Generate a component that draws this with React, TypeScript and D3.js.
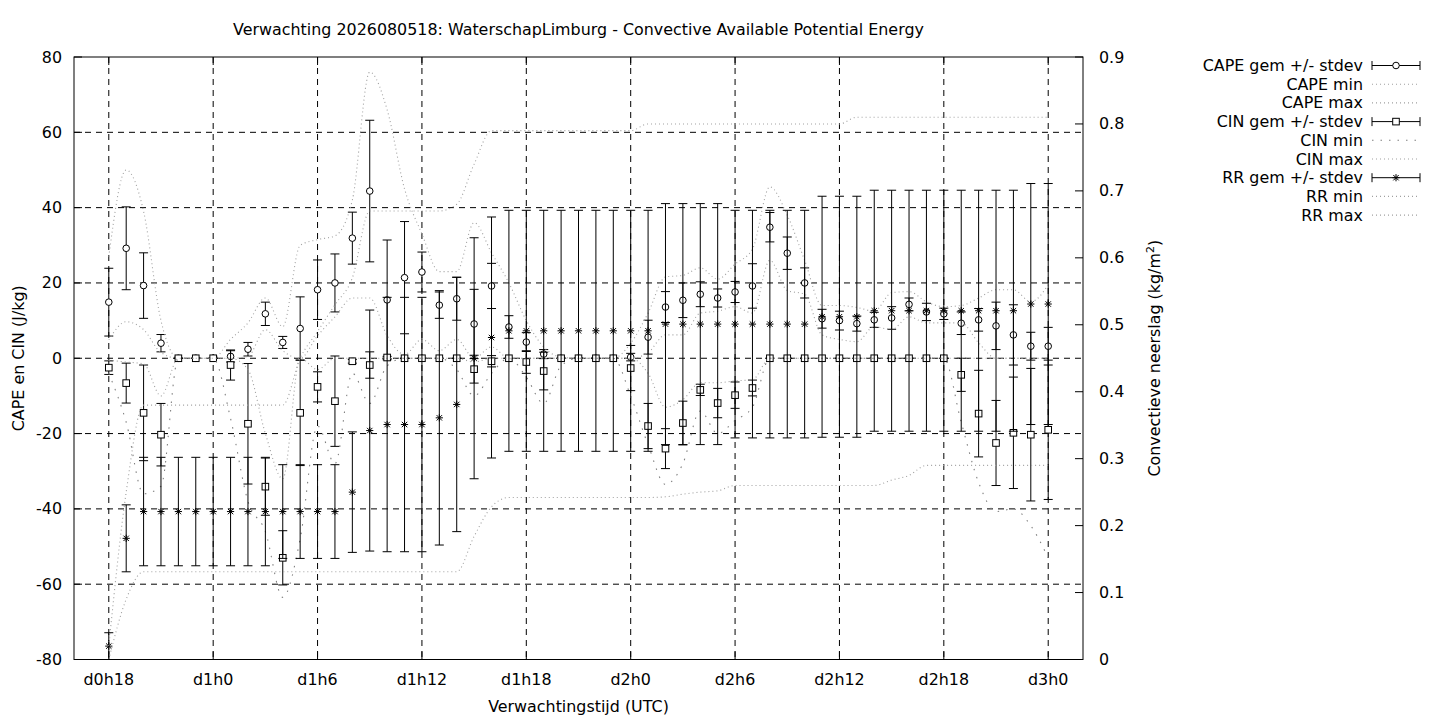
// CAPE / CIN / convective precipitation ensemble forecast chart (gnuplot look-alike)
import * as d3 from "d3";

// ─── Data ──────────────────────────────────────────────────────────────────

const leadHours = [
  18, 19, 20, 21, 22, 23, 24, 25, 26, 27,
  28, 29, 30, 31, 32, 33, 34, 35, 36, 37,
  38, 39, 40, 41, 42, 43, 44, 45, 46, 47,
  48, 49, 50, 51, 52, 53, 54, 55, 56, 57,
  58, 59, 60, 61, 62, 63, 64, 65, 66, 67,
  68, 69, 70, 71, 72,
];

const xTickHours = [18, 24, 30, 36, 42, 48, 54, 60, 66, 72];
const xTickLabels = ["d0h18", "d1h0", "d1h6", "d1h12", "d1h18", "d2h0", "d2h6", "d2h12", "d2h18", "d3h0"];
const leftTicks = [-80, -60, -40, -20, 0, 20, 40, 60, 80];
const rightTicks = [0, 0.1, 0.2, 0.3, 0.4, 0.5, 0.6, 0.7, 0.8, 0.9];

const capeMean = [
  14.9, 29.2, 19.3, 4.0, 0, 0, 0, 0.5, 2.4, 11.8,
  4.2, 7.9, 18.2, 20.0, 31.9, 44.4, 15.5, 21.4, 22.9, 14.1,
  15.8, 9.1, 19.2, 8.3, 4.3, 1.1, 0, 0, 0, 0,
  0.3, 5.6, 13.6, 15.4, 17.0, 16.0, 17.6, 19.2, 34.8, 27.9,
  20.0, 10.5, 10.0, 9.2, 10.2, 10.7, 14.3, 12.3, 11.8, 9.3,
  10.2, 8.6, 6.2, 3.2, 3.2,
];
const capeSd = [
  9, 11, 8.7, 2.3, 0, 0, 0, 1.5, 1.8, 3.1,
  1.6, 8.4, 7.9, 7.7, 6.9, 18.8, 15.9, 14.9, 5.3, 3.5,
  5.7, 9.2, 6, 3, 2.5, 1.2, 0, 0, 0, 0,
  1, 4.5, 4.1, 4.6, 3.3, 2.4, 2.8, 5.9, 3.9, 4.3,
  4, 2.5, 2.5, 2, 2, 3, 1.7, 2.3, 1.5, 3,
  3, 6.3, 8, 3.7, 5,
];
const capeMin = [
  4.9, 9.7, 7.6, 1.5, 0, 0, 0, 0, 0.5, 7.6,
  2, 0, 6, 11, 16, 16, 6, 1, 5, 2,
  5, 0, 3, 0, 0, 0, 0, 0, 0, 0,
  0, 1.5, 6.2, 6.2, 12, 12.5, 13.7, 12, 26, 18,
  17, 6.2, 5, 4.4, 8.4, 7.6, 11, 9.4, 9.4, 9.4,
  4.1, 0, 0, 0, 0,
];
const capeMax = [
  27, 50, 39, 10, 0, 0, 0, 5, 9.4, 16,
  8.4, 30, 31.5, 32.5, 42, 76, 66, 45, 33, 23,
  23, 36, 28, 20, 10, 3, 0.3, 0, 0, 0,
  4, 12, 21.6, 22, 24, 21, 25, 29, 45.5, 38,
  26, 14, 14, 13.5, 12.5, 17.4, 17.7, 15, 13.7, 14,
  16, 18.2, 18.2, 15, 19.5,
];

const cinMean = [
  -2.5, -6.6, -14.5, -20.3, 0, 0, 0, -1.8, -17.4, -34.1,
  -53, -14.5, -7.6, -11.4, -0.8, -1.8, 0.2, 0, 0, 0,
  0, -2.9, -0.8, 0, -1, -3.4, 0, 0, 0, 0,
  -2.6, -18, -24, -17.2, -8.4, -11.9, -9.8, -7.9, 0, 0,
  0, 0, 0, 0, 0, 0, 0, 0, 0, -4.4,
  -14.7, -22.5, -19.8, -20.3, -19,
];
const cinSd = [
  1.8, 5.3, 12.7, 8.3, 0, 0, 0, 4, 16, 7.6,
  7.2, 14, 4, 12, 0.5, 3.5, 0.3, 0, 0, 0,
  0, 3.7, 1.5, 0, 3, 5, 0, 0, 0, 0,
  6, 6, 5.3, 5.8, 1.5, 3.9, 3.5, 2.1, 0, 0,
  0, 0, 0, 0, 0, 0, 0, 0, 0, 4.4,
  11.5, 11.3, 14.8, 17.6, 18.5,
];
const cinMin = [
  -4, -17, -36, -34, 0, 0, 0, -16, -38, -46,
  -63.5, -48, -18, -28, -4, -12, -2, 0, 0, 0,
  -3, -10, -4, 0, -5, -12, -2, 0, 0, 0,
  -10, -23, -33.5, -28, -14, -20, -16.5, -13, 0, 0,
  0, 0, 0, 0, 0, 0, 0, 0, 0, -17,
  -33, -40.7, -40, -44.5, -53,
];
const cinMax = [
  -0.5, -1, -1.5, -10, 0, 0, 0, 0, -3, -20,
  -32, 0, -3, 0, 0, 0, 0, 0, 0, 0,
  0, -1, 0, 0, 0, 0, 0, 0, 0, 0,
  0, -4, -13, -11, -6.5, -6.5, -6, -5.7, 0, 0,
  0, 0, 0, 0, 0, 0, 0, 0, 0, 0,
  0, 0, 0, 0, 0,
];

const rrMean = [
  0.02, 0.181, 0.221, 0.221, 0.221, 0.221, 0.221, 0.221, 0.221, 0.221,
  0.221, 0.221, 0.221, 0.221, 0.25, 0.342, 0.351, 0.351, 0.351, 0.361,
  0.381, 0.45, 0.481, 0.491, 0.491, 0.491, 0.491, 0.491, 0.491, 0.491,
  0.491, 0.491, 0.501, 0.501, 0.501, 0.501, 0.501, 0.501, 0.501, 0.501,
  0.501, 0.512, 0.512, 0.512, 0.521, 0.521, 0.521, 0.521, 0.521, 0.521,
  0.521, 0.521, 0.521, 0.531, 0.531,
];
const rrSd = [
  0.02, 0.05, 0.081, 0.081, 0.081, 0.081, 0.081, 0.081, 0.081, 0.081,
  0.07, 0.07, 0.07, 0.07, 0.09, 0.18, 0.19, 0.19, 0.19, 0.19,
  0.19, 0.18, 0.18, 0.18, 0.18, 0.18, 0.18, 0.18, 0.18, 0.18,
  0.18, 0.18, 0.18, 0.18, 0.18, 0.18, 0.17, 0.17, 0.17, 0.17,
  0.17, 0.18, 0.18, 0.18, 0.18, 0.18, 0.18, 0.18, 0.18, 0.18,
  0.18, 0.18, 0.18, 0.18, 0.18,
];
const rrMin = [
  0, 0.09, 0.131, 0.131, 0.131, 0.131, 0.131, 0.131, 0.131, 0.131,
  0.131, 0.131, 0.131, 0.131, 0.131, 0.131, 0.131, 0.131, 0.131, 0.131,
  0.131, 0.184, 0.228, 0.242, 0.242, 0.242, 0.242, 0.242, 0.242, 0.242,
  0.242, 0.242, 0.243, 0.247, 0.25, 0.252, 0.26, 0.26, 0.26, 0.26,
  0.26, 0.26, 0.26, 0.26, 0.26, 0.268, 0.275, 0.29, 0.29, 0.29,
  0.29, 0.29, 0.29, 0.29, 0.29,
];
const rrMax = [
  0.02, 0.25, 0.38, 0.38, 0.38, 0.38, 0.38, 0.38, 0.38, 0.38,
  0.38, 0.45, 0.49, 0.53, 0.57, 0.67, 0.67, 0.67, 0.67, 0.67,
  0.68, 0.74, 0.79, 0.79, 0.79, 0.79, 0.79, 0.79, 0.79, 0.79,
  0.79, 0.8, 0.8, 0.8, 0.8, 0.8, 0.8, 0.8, 0.8, 0.8,
  0.8, 0.8, 0.8, 0.81, 0.81, 0.81, 0.81, 0.81, 0.81, 0.81,
  0.81, 0.81, 0.81, 0.81, 0.81,
];

// ─── Layout ────────────────────────────────────────────────────────────────

const W = 1440;
const H = 720;
const PLOT = { left: 74, right: 1083, top: 57, bottom: 659.5 };
const FONT = "DejaVu Sans, sans-serif";
const FS = 15.9;
const DOT_FINE = "1,3";
const DOT_SPARSE = "1.5,7";
const GRAY = "#a0a0a0";

type Marker = "circle" | "square" | "star";

function MarkerShape({ kind, cx, cy }: { kind: Marker; cx: number; cy: number }) {
  if (kind === "circle")
    return <circle cx={cx} cy={cy} r={3.3} fill="#fff" stroke="#000" strokeWidth={1} />;
  if (kind === "square")
    return <rect x={cx - 3.3} y={cy - 3.3} width={6.6} height={6.6} fill="#fff" stroke="#000" strokeWidth={1} />;
  const s = 3.6;
  const d = 2.7;
  return (
    <path
      d={`M${cx - s},${cy}H${cx + s}M${cx},${cy - s}V${cy + s}M${cx - d},${cy - d}L${cx + d},${cy + d}M${cx - d},${cy + d}L${cx + d},${cy - d}`}
      stroke="#000"
      strokeWidth={1}
    />
  );
}

export default function App() {
  const x = d3.scaleLinear().domain([16, 74]).range([PLOT.left, PLOT.right]);
  const yL = d3.scaleLinear().domain([-80, 80]).range([PLOT.bottom, PLOT.top]);
  const yR = d3.scaleLinear().domain([0, 0.9]).range([PLOT.bottom, PLOT.top]);

  const pathOf = (vals: number[], scale: d3.ScaleLinear<number, number>) =>
    d3
      .line<number>()
      .x((_, i) => x(leadHours[i]))
      .y((v) => scale(v))
      .curve(d3.curveMonotoneX)(vals) ?? "";

  // ── error bar series ──
  const errorBars = (
    means: number[],
    sds: number[],
    scale: d3.ScaleLinear<number, number>,
    kind: Marker,
    key: string
  ) => (
    <g key={key}>
      {means.map((m, i) => {
        const cx = x(leadHours[i]);
        const yTop = scale(m + sds[i]);
        const yBot = scale(m - sds[i]);
        return (
          <g key={i}>
            <path
              d={`M${cx},${yTop}V${yBot}M${cx - 4.5},${yTop}H${cx + 4.5}M${cx - 4.5},${yBot}H${cx + 4.5}`}
              stroke="#000"
              strokeWidth={1}
              fill="none"
            />
            <MarkerShape kind={kind} cx={cx} cy={scale(m)} />
          </g>
        );
      })}
    </g>
  );

  const dotted = (vals: number[], scale: d3.ScaleLinear<number, number>, dash: string, color: string, key: string) => (
    <path key={key} d={pathOf(vals, scale)} fill="none" stroke={color} strokeWidth={1.1} strokeDasharray={dash} />
  );

  // ── legend ──
  const legendItems: { label: string; kind: "err" | "dot"; marker?: Marker; dash?: string; color?: string }[] = [
    { label: "CAPE gem +/- stdev", kind: "err", marker: "circle" },
    { label: "CAPE min", kind: "dot", dash: DOT_FINE, color: GRAY },
    { label: "CAPE max", kind: "dot", dash: DOT_FINE, color: GRAY },
    { label: "CIN gem +/- stdev", kind: "err", marker: "square" },
    { label: "CIN min", kind: "dot", dash: DOT_SPARSE, color: "#808080" },
    { label: "CIN max", kind: "dot", dash: DOT_FINE, color: GRAY },
    { label: "RR gem +/- stdev", kind: "err", marker: "star" },
    { label: "RR min", kind: "dot", dash: DOT_FINE, color: GRAY },
    { label: "RR max", kind: "dot", dash: DOT_FINE, color: GRAY },
  ];
  const LEG = { textX: 1363, x0: 1372, x1: 1420, y0: 65.5, dy: 18.7 };

  return (
    <svg
      width={W}
      height={H}
      viewBox={`0 0 ${W} ${H}`}
      style={{ position: "absolute", left: 0, top: 0, background: "#fff" }}
      fontFamily={FONT}
      fontSize={FS}
    >
      <defs>
        <clipPath id="plot-clip">
          <rect x={PLOT.left} y={PLOT.top} width={PLOT.right - PLOT.left} height={PLOT.bottom - PLOT.top} />
        </clipPath>
      </defs>
      <rect x={0} y={0} width={W} height={H} fill="#fff" />

      {/* title */}
      <text x={578.5} y={34.5} textAnchor="middle">
        Verwachting 2026080518: WaterschapLimburg - Convective Available Potential Energy
      </text>

      {/* grid */}
      <g stroke="#000" strokeWidth={1} strokeDasharray="6,5">
        {xTickHours.map((h) => (
          <line key={`gx${h}`} x1={x(h)} x2={x(h)} y1={PLOT.top} y2={PLOT.bottom} />
        ))}
        {leftTicks.slice(1, -1).map((v) => (
          <line key={`gy${v}`} x1={PLOT.left} x2={PLOT.right} y1={yL(v)} y2={yL(v)} />
        ))}
      </g>

      {/* tick marks */}
      <g stroke="#000" strokeWidth={1}>
        {leftTicks.map((v) => (
          <line key={`tl${v}`} x1={PLOT.left} x2={PLOT.left + 8} y1={yL(v)} y2={yL(v)} />
        ))}
        {rightTicks.map((v) => (
          <line key={`tr${v}`} x1={PLOT.right - 8} x2={PLOT.right} y1={yR(v)} y2={yR(v)} />
        ))}
        {xTickHours.map((h) => (
          <g key={`tx${h}`}>
            <line x1={x(h)} x2={x(h)} y1={PLOT.bottom} y2={PLOT.bottom - 8} />
            <line x1={x(h)} x2={x(h)} y1={PLOT.top} y2={PLOT.top + 8} />
          </g>
        ))}
      </g>

      {/* series */}
      <g clipPath="url(#plot-clip)">
        {errorBars(capeMean, capeSd, yL, "circle", "cape")}
        {dotted(capeMin, yL, DOT_FINE, GRAY, "capeMin")}
        {dotted(capeMax, yL, DOT_FINE, GRAY, "capeMax")}
        {errorBars(cinMean, cinSd, yL, "square", "cin")}
        {dotted(cinMin, yL, DOT_SPARSE, "#808080", "cinMin")}
        {dotted(cinMax, yL, DOT_FINE, GRAY, "cinMax")}
        {errorBars(rrMean, rrSd, yR, "star", "rr")}
        {dotted(rrMin, yR, DOT_FINE, GRAY, "rrMin")}
        {dotted(rrMax, yR, DOT_FINE, GRAY, "rrMax")}
      </g>

      {/* frame */}
      <rect
        x={PLOT.left}
        y={PLOT.top}
        width={PLOT.right - PLOT.left}
        height={PLOT.bottom - PLOT.top}
        fill="none"
        stroke="#000"
        strokeWidth={1}
      />

      {/* tick labels */}
      {leftTicks.map((v) => (
        <text key={`ll${v}`} x={62} y={yL(v) + 5.5} textAnchor="end">
          {v}
        </text>
      ))}
      {rightTicks.map((v) => (
        <text key={`rl${v}`} x={1099} y={yR(v) + 5.5} textAnchor="start">
          {v === 0 ? "0" : d3.format(".1f")(v)}
        </text>
      ))}
      {xTickHours.map((h, i) => (
        <text key={`xl${h}`} x={x(h)} y={685} textAnchor="middle">
          {xTickLabels[i]}
        </text>
      ))}

      {/* axis labels */}
      <text x={578.5} y={712} textAnchor="middle">
        Verwachtingstijd (UTC)
      </text>
      <text transform={`translate(24,${(PLOT.top + PLOT.bottom) / 2}) rotate(-90)`} textAnchor="middle">
        CAPE en CIN (J/kg)
      </text>
      <text transform={`translate(1160,${(PLOT.top + PLOT.bottom) / 2}) rotate(-90)`} textAnchor="middle">
        Convectieve neerslag (kg/m<tspan baselineShift="super" fontSize={11}>2</tspan>)
      </text>

      {/* legend */}
      {legendItems.map((it, i) => {
        const y = LEG.y0 + i * LEG.dy;
        return (
          <g key={`leg${i}`}>
            <text x={LEG.textX} y={y + 5.5} textAnchor="end">
              {it.label}
            </text>
            {it.kind === "err" ? (
              <g>
                <path
                  d={`M${LEG.x0},${y}H${LEG.x1}M${LEG.x0},${y - 4.5}V${y + 4.5}M${LEG.x1},${y - 4.5}V${y + 4.5}`}
                  stroke="#000"
                  strokeWidth={1}
                  fill="none"
                />
                <MarkerShape kind={it.marker!} cx={(LEG.x0 + LEG.x1) / 2} cy={y} />
              </g>
            ) : (
              <line
                x1={LEG.x0}
                x2={LEG.x1}
                y1={y}
                y2={y}
                stroke={it.color}
                strokeWidth={1.1}
                strokeDasharray={it.dash}
              />
            )}
          </g>
        );
      })}
    </svg>
  );
}
